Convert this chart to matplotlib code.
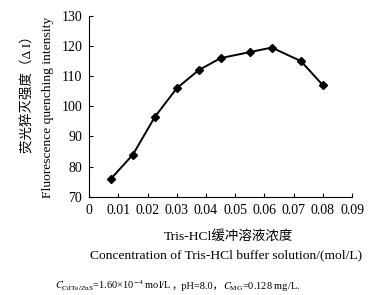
import matplotlib
matplotlib.use('Agg')
import matplotlib.pyplot as plt

plt.rcParams['font.family'] = ['Liberation Serif', 'Noto Sans CJK SC']
plt.rcParams['mathtext.fontset'] = 'stix'

conc = [0.0075, 0.015, 0.0225, 0.03, 0.0375, 0.045, 0.055, 0.0625, 0.0725, 0.08]
quench = [76, 84, 96.5, 106, 112, 116, 118, 119.5, 115, 107]
xticks = [0, 0.01, 0.02, 0.03, 0.04, 0.05, 0.06, 0.07, 0.08, 0.09]
xticklabels = ['0', '0.01', '0.02', '0.03', '0.04', '0.05', '0.06', '0.07', '0.08', '0.09']
yticks = [70, 80, 90, 100, 110, 120, 130]

fig = plt.figure(figsize=(3.84, 2.95), dpi=100)
ax = fig.add_axes([0.232, 0.333, 0.685, 0.613])
ax.plot(conc, quench, color='black', lw=1.4, marker='D', ms=4.3, mfc='black', mec='black')

ax.set_xlim(0, 0.09)
ax.set_ylim(70, 130)
ax.set_xticks(xticks)
ax.set_xticklabels(xticklabels)
ax.set_yticks(yticks)
ax.spines['top'].set_visible(False)
ax.spines['right'].set_visible(False)
ax.tick_params(direction='in', length=3, width=0.8, labelsize=10, pad=5)

fig.text(0.073, 0.69, '荧光猝灭强度（Δ I）', rotation=90, ha='center', va='center', fontsize=9.7)
fig.text(0.125, 0.636, 'Fluorescence quenching intensity', rotation=90, ha='center', va='center', fontsize=9.7)

fig.text(0.596, 0.2, 'Tris-HCl缓冲溶液浓度', ha='center', va='center', fontsize=9.7)
fig.text(0.59, 0.135, 'Concentration of Tris-HCl buffer solution/(mol/L)', ha='center', va='center', fontsize=9.7)

# caption in pieces so the full-width commas can fall back to the CJK font
y_cap = 0.03
t1 = fig.text(0.143, y_cap, r'$C_{\mathrm{CdTe/ZnS}}$=1.60×10$^{-4}$ mol/L', ha='left', va='center', fontsize=7.5)
fig.canvas.draw()
x2 = t1.get_window_extent().x1 / fig.bbox.width
t2 = fig.text(x2, y_cap, '，pH=8.0，', ha='left', va='center', fontsize=7.5)
fig.canvas.draw()
x3 = t2.get_window_extent().x1 / fig.bbox.width
fig.text(x3, y_cap, r'$C_{\mathrm{MG}}$=0.128 mg/L.', ha='left', va='center', fontsize=7.5)

fig.savefig('out.png', dpi=100)
